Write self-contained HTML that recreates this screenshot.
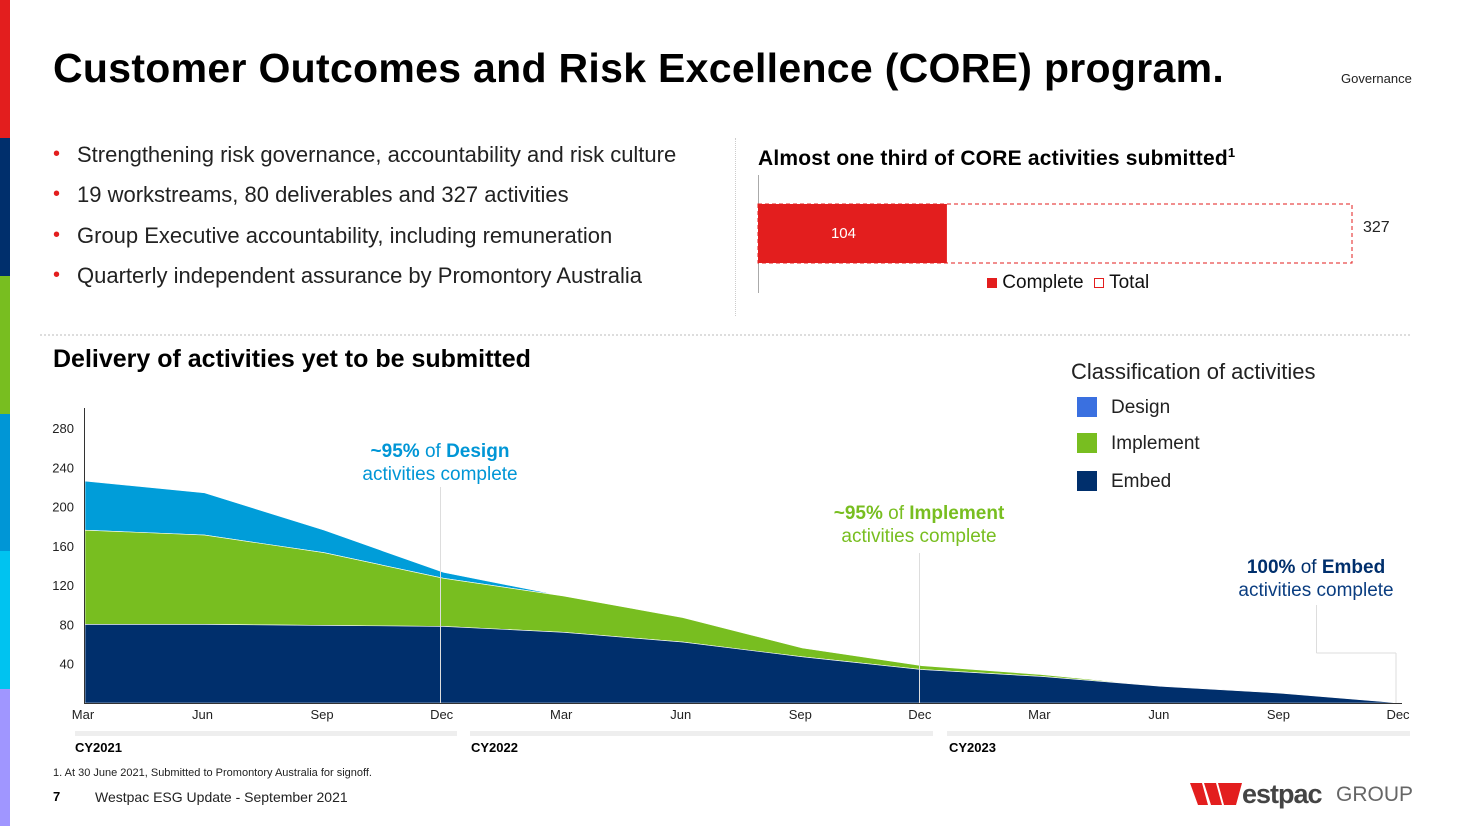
<!DOCTYPE html>
<html><head><meta charset="utf-8"><style>
body{margin:0;width:1469px;height:826px;background:#fff;font-family:"Liberation Sans",Arial,sans-serif;position:relative;overflow:hidden}
.abs{position:absolute}
.stripe{position:absolute;left:0;width:10px}
ul{margin:0;padding:0;list-style:none}
li{position:absolute;left:53px;font-size:22px;color:#222}
li:before{content:"•";color:#e31e1e;position:absolute;left:0;font-size:20px;top:1px}
li span{margin-left:24px}
</style></head><body>
<div class="stripe" style="top:0;height:138px;background:#e31e1e"></div>
<div class="stripe" style="top:138px;height:138px;background:#002f6c"></div>
<div class="stripe" style="top:276px;height:138px;background:#78be20"></div>
<div class="stripe" style="top:414px;height:137px;background:#0096d6"></div>
<div class="stripe" style="top:551px;height:138px;background:#00c3f0"></div>
<div class="stripe" style="top:689px;height:137px;background:#a096ff"></div>

<div class="abs" style="left:53px;top:45px;font-size:41px;letter-spacing:0.3px;font-weight:bold;color:#000">Customer Outcomes and Risk Excellence (CORE) program.</div>
<div class="abs" style="left:1341px;top:71px;font-size:13px;color:#222">Governance</div>

<ul>
<li style="top:142px"><span>Strengthening risk governance, accountability and risk culture</span></li>
<li style="top:182px"><span>19 workstreams, 80 deliverables and 327 activities</span></li>
<li style="top:223px"><span>Group Executive accountability, including remuneration</span></li>
<li style="top:263px"><span>Quarterly independent assurance by Promontory Australia</span></li>
</ul>

<div class="abs" style="left:735px;top:138px;height:178px;border-left:1px dotted #ccc"></div>
<div class="abs" style="left:40px;top:334px;width:1370px;border-top:2px dotted #ddd"></div>

<div class="abs" style="left:758px;top:145px;font-size:21px;letter-spacing:0.2px;font-weight:bold;color:#000">Almost one third of CORE activities submitted<sup style="font-size:13px">1</sup></div>
<svg class="abs" style="left:0;top:0" width="1469" height="826">
<line x1="758.5" y1="175" x2="758.5" y2="293" stroke="#aaa"/>
<g id="bars"></g>
</svg>
<div class="abs" style="left:987px;top:272px;font-size:19px;color:#111">
<span style="display:inline-block;width:10px;height:10px;background:#e31e1e"></span> Complete &nbsp;<span style="display:inline-block;width:8px;height:8px;border:1px solid #e31e1e"></span> Total</div>

<div class="abs" style="left:53px;top:345px;font-size:25px;font-weight:bold;color:#000">Delivery of activities yet to be submitted</div>
<div class="abs" style="left:1071px;top:359px;font-size:22px;color:#222">Classification of activities</div>
<div class="abs" style="left:1077px;top:397px;font-size:19px;color:#222"><span style="position:absolute;width:20px;height:20px;background:#3a70e0"></span><span style="margin-left:34px">Design</span></div>
<div class="abs" style="left:1077px;top:433px;font-size:19px;color:#222"><span style="position:absolute;width:20px;height:20px;background:#78be20"></span><span style="margin-left:34px">Implement</span></div>
<div class="abs" style="left:1077px;top:471px;font-size:19px;color:#222"><span style="position:absolute;width:20px;height:20px;background:#002f6c"></span><span style="margin-left:34px">Embed</span></div>

<svg class="abs" style="left:0;top:0" width="1469" height="826" id="area">
<g id="areas"></g>
<g id="axes"></g>
</svg>

<div class="abs" style="left:340px;top:440px;width:200px;text-align:center;font-size:19px;color:#0096d6;line-height:23px"><b>~95%</b> of <b>Design</b><br>activities complete</div>
<div class="abs" style="left:809px;top:502px;width:220px;text-align:center;font-size:19px;color:#78be20;line-height:23px"><b>~95%</b> of <b>Implement</b><br>activities complete</div>
<div class="abs" style="left:1216px;top:556px;width:200px;text-align:center;font-size:19px;color:#002f6c;line-height:23px"><b>100%</b> of <b>Embed</b><br><span style="color:#0a3d80">activities complete</span></div>

<div class="abs" style="left:75px;top:731px;width:382px;height:5px;background:#eee"></div>
<div class="abs" style="left:470px;top:731px;width:463px;height:5px;background:#eee"></div>
<div class="abs" style="left:947px;top:731px;width:463px;height:5px;background:#eee"></div>
<div class="abs" style="left:75px;top:740px;font-size:13px;font-weight:bold">CY2021</div>
<div class="abs" style="left:471px;top:740px;font-size:13px;font-weight:bold">CY2022</div>
<div class="abs" style="left:949px;top:740px;font-size:13px;font-weight:bold">CY2023</div>

<div class="abs" style="left:53px;top:767px;font-size:11px;color:#222">1. At 30 June 2021, Submitted to Promontory Australia for signoff.</div>
<div class="abs" style="left:53px;top:789px;font-size:13px;font-weight:bold">7</div>
<div class="abs" style="left:95px;top:789px;font-size:14px;color:#222">Westpac ESG Update - September 2021</div>
<div class="abs" style="left:1190px;top:779px;height:30px;white-space:nowrap">
<svg width="52" height="24" style="position:absolute;left:0;top:4px"><polygon points="0,0 12,0 18,22 8,22" fill="#e31e1e"/><polygon points="14,0 26,0 32,22 21,22" fill="#e31e1e"/><polygon points="28,0 52,0 46,22 34,22" fill="#e31e1e"/></svg>
<span style="position:absolute;left:52px;top:0;font-size:27px;font-weight:bold;color:#444;letter-spacing:-1px">estpac</span>
<span style="position:absolute;left:146px;top:4px;font-size:21px;color:#666">GROUP</span></div>

<script>
// bar chart data
const barLabels=["Complete","Total"];
const barValues=[104,327];
const bx0=758,bw=594/327,by=204,bh=59;
const bg=document.getElementById('bars');
const NS="http://www.w3.org/2000/svg";
let tot=document.createElementNS(NS,'rect');


tot.setAttribute('x',bx0);tot.setAttribute('y',by);tot.setAttribute('width',barValues[1]*bw);tot.setAttribute('height',bh);
tot.setAttribute('fill','none');tot.setAttribute('stroke','#e31e1e');tot.setAttribute('stroke-dasharray','4,3');
bg.appendChild(tot);
let comp=document.createElementNS(NS,'rect');


comp.setAttribute('x',bx0);comp.setAttribute('y',by);comp.setAttribute('width',barValues[0]*bw);comp.setAttribute('height',bh);
comp.setAttribute('fill','#e31e1e');
bg.appendChild(comp);
let t1=document.createElementNS(NS,'text');


t1.setAttribute('x',bx0+barValues[0]*bw/2-9);t1.setAttribute('y',by+34);t1.setAttribute('text-anchor','middle');t1.setAttribute('fill','#fff');t1.setAttribute('font-size','15');t1.textContent=barValues[0];
bg.appendChild(t1);
let t2=document.createElementNS(NS,'text');


t2.setAttribute('x',bx0+barValues[1]*bw+11);t2.setAttribute('y',by+28);t2.setAttribute('fill','#222');t2.setAttribute('font-size','16');t2.textContent=barValues[1];
bg.appendChild(t2);

// area chart data
const quarters=["Mar","Jun","Sep","Dec","Mar","Jun","Sep","Dec","Mar","Jun","Sep","Dec"];
const embed=[80,80,79,78,72,62,47,34,27,17,10,0];
const implement=[96,91,74,49,37,25,9,4,2,0,0,0];
const design=[50,43,23,6,0,0,0,0,0,0,0,0];
const yTicks=[40,80,120,160,200,240,280];
const x=i=>85+i*(1400-85)/11;
const y=v=>703-v*(703-428)/280;
const ag=document.getElementById('areas');
function area(lo,hi,color,name){
  let d='M'+x(0)+','+y(hi[0]);
  for(let i=1;i<hi.length;i++)d+=' L'+x(i)+','+y(hi[i]);
  for(let i=lo.length-1;i>=0;i--)d+=' L'+x(i)+','+y(lo[i]);
  d+='Z';
  let p=document.createElementNS(NS,'path');
  
  
  p.setAttribute('d',d);p.setAttribute('fill',color);p.setAttribute('stroke','#fff');p.setAttribute('stroke-width','0.6');
  ag.appendChild(p);
}
const zero=embed.map(()=>0);
const top1=embed;
const top2=embed.map((v,i)=>v+implement[i]);
const top3=top2.map((v,i)=>v+design[i]);
area(top2,top3,'#009dd9','area-design');
area(top1,top2,'#78be20','area-implement');
area(zero,top1,'#002f6c','area-embed');
const ax=document.getElementById('axes');
function line(x1,y1,x2,y2,c,name){let l=document.createElementNS(NS,'line');


l.setAttribute('x1',x1);l.setAttribute('y1',y1);l.setAttribute('x2',x2);l.setAttribute('y2',y2);l.setAttribute('stroke',c);ax.appendChild(l);}
line(440.5,487,440.5,703,'#ddd','design-callout-line');
line(919.5,553,919.5,703,'#ddd','implement-callout-line');
line(1316.5,605,1316.5,653,'#ddd','embed-callout-line-v1');
line(1316.5,653,1396,653,'#ddd','embed-callout-line-h');
line(1396,653,1396,703,'#ddd','embed-callout-line-v2');
line(84.5,408,84.5,704,'#333','y-axis');
line(84,703.5,1402,703.5,'#333','x-axis');
yTicks.forEach(v=>{let t=document.createElementNS(NS,'text');


t.setAttribute('x',74);t.setAttribute('y',y(v)+5);t.setAttribute('text-anchor','end');t.setAttribute('font-size','13');t.setAttribute('fill','#222');t.textContent=v;ax.appendChild(t);});
quarters.forEach((q,i)=>{let t=document.createElementNS(NS,'text');


t.setAttribute('x',x(i)-2);t.setAttribute('y',719);t.setAttribute('text-anchor','middle');t.setAttribute('font-size','13');t.setAttribute('fill','#222');t.textContent=q;ax.appendChild(t);});
</script>
</body></html>
